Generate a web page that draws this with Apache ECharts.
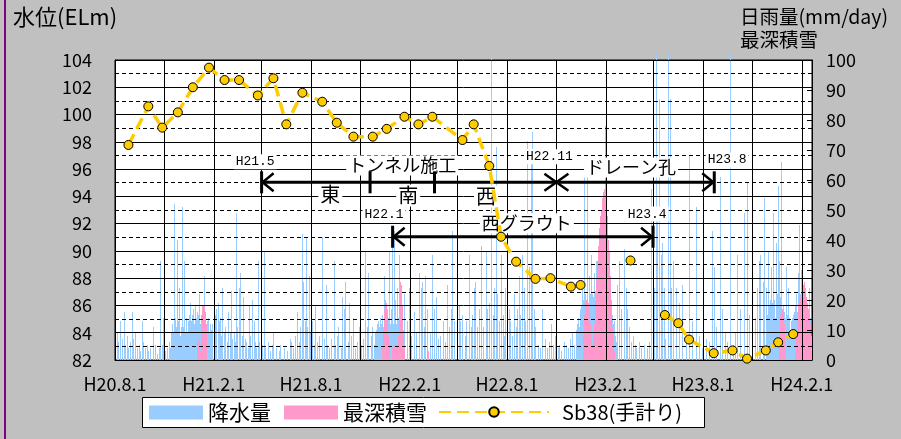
<!DOCTYPE html>
<html>
<head>
<meta charset="utf-8">
<script src="https://cdn.jsdelivr.net/npm/echarts@6/dist/echarts.min.js"></script>
<style>
  html, body { margin: 0; padding: 0; background: #c0c0c0; }
  body { position: relative; width: 901px; height: 439px; overflow: hidden; }
  #chart { width: 901px; height: 439px; }
  #edge { position: absolute; left: 4px; top: 0; width: 2px; height: 439px; background: #800080; }
</style>
</head>
<body>
<div id="chart"></div>
<div id="edge"></div>
<script>
// ---- time helpers: rain / snow rows are keyed by days after 2008-08-01 ----
const DAY_MS = 864e5;
const T0 = Date.UTC(2008, 7, 1);
const dayToTime = d => T0 + d * DAY_MS;
const dateToTime = s => { const p = s.split('-').map(Number); return Date.UTC(p[0], p[1] - 1, p[2]); };

// ---- axes ----
const axisStart = '2008-08-01';
const axisEnd = '2012-02-20';
const gridDates = ['2008-08-01', '2008-11-01', '2009-02-01', '2009-05-01', '2009-08-01', '2009-11-01',
  '2010-02-01', '2010-05-01', '2010-08-01', '2010-11-01', '2011-02-01', '2011-05-01', '2011-08-01',
  '2011-11-01', '2012-02-01'];
const labelDates = ['2008-08-01', '2009-02-01', '2009-08-01', '2010-02-01', '2010-08-01', '2011-02-01',
  '2011-08-01', '2012-02-01'];

// ---- daily precipitation [day, mm/day] ----
const RAIN = [
  // 2008 summer - 2009 spring
  [1,16],[4,9],[7,6],[11,13],[14,7],[17,16],[20,5],[23,8],[26,4],[29,6],[32,16],[35,7],[38,9],[42,4],[45,5],
  [48,3],[51,13],[54,6],[57,4],[60,5],[63,3],[66,4],[71,11],[76,5],[79,2],[82,4],[85,33],[88,5],[91,14],[94,3],
  [97,4],[101,6],[104,4],[107,7],[109,9],[110,52],[112,8],[114,11],[116,40],[118,13],[120,24],[122,8],[125,51],
  [127,11],[130,33],[132,9],[135,9],[137,13],[140,19],[142,13],[145,15],[147,14],[150,18],[152,13],[155,15],
  [157,22],[158,11],[161,13],[163,9],[166,28],[168,7],[171,7],[173,13],[175,14],[178,11],[181,12],[185,24],
  [187,15],[189,17],[192,19],[194,13],[197,14],[199,8],[201,24],[204,9],[206,11],[209,6],[212,16],[215,9],
  [217,23],[219,7],[222,9],[224,6],[226,49],[229,11],[231,24],[234,29],[237,8],[240,21],[243,7],[245,6],[248,4],
  [250,18],[253,8],[256,20],[259,13],[262,6],
  [106,9],[108,12],[111,10],[113,14],[115,9],[117,12],[119,10],[121,14],[123,11],[124,9],[126,13],[128,10],
  [129,12],[131,8],[133,14],[134,10],[136,12],[138,15],[139,11],[141,16],[143,12],[144,10],[146,17],[148,12],
  [149,10],[151,14],[153,11],[154,16],[156,12],[159,9],[160,12],[162,8],[164,14],[165,10],[167,8],[169,12],
  [170,9],[172,10],[174,8],[176,9],[177,12],[179,8],[180,10],
  // 2009 summer - 2010 spring
  [264,4],[267,33],[270,6],[275,5],[278,36],[281,4],[285,6],[289,3],[293,5],[296,9],[301,4],[306,3],[309,5],
  [315,4],[321,3],[326,7],[329,6],[332,4],[337,8],[340,16],[343,6],[346,11],[349,42],[351,26],[354,13],[357,41],
  [359,11],[362,28],[365,9],[368,13],[371,5],[374,18],[377,6],[381,8],[386,41],[390,7],[393,25],[396,5],[400,4],
  [403,7],[408,33],[411,5],[414,8],[417,11],[421,4],[424,21],[427,17],[429,26],[434,6],[437,19],[440,8],[444,14],
  [448,4],[452,6],[455,11],[459,5],[463,7],[467,36],[470,11],[473,29],[477,8],[480,11],[483,5],[486,9],[489,11],
  [492,11],[495,14],[498,6],[501,28],[504,8],[508,17],[511,36],[514,17],[517,44],[520,43],
  [487,10],[488,12],[490,9],[491,13],[493,11],[494,14],[496,10],[497,12],[499,15],[500,11],[502,13],[503,9],
  [505,12],[506,15],[507,11],[509,14],[510,10],[512,16],[513,12],[515,10],[516,14],[518,12],[519,9],[521,13],
  [522,10],[524,12],[525,9],[527,11],[528,14],[530,10],[531,8],[532,12],[534,9],[535,11],[536,8],[537,10],
  [538,7],
  [523,20],[526,24],[529,35],[533,12],[539,22],[544,13],[548,24],[552,8],[557,16],[562,9],[567,29],[570,24],
  [573,26],[576,11],[579,28],[582,17],[587,9],[591,35],[595,17],[598,21],[602,7],[607,8],[612,13],[616,6],
  // 2010 summer - 2011 spring
  [619,25],[623,11],[626,17],[629,43],[633,13],[637,8],[641,18],[644,13],[647,15],[652,8],[655,13],[660,35],
  [663,11],[666,15],[669,24],[672,26],[675,11],[679,17],[683,38],[687,11],[691,36],[694,17],[698,19],[701,102],
  [704,15],[706,24],[710,71],[713,22],[716,13],[719,35],[723,15],[725,8],[728,24],[731,14],[734,17],[737,13],
  [741,8],[744,22],[747,11],[750,17],[753,28],[756,15],[759,35],[762,24],[765,13],[769,73],[772,31],[775,68],
  [778,76],
  [781,17],[784,11],[789,5],[792,4],[797,17],[801,7],[805,4],[809,6],[812,12],[816,5],[820,8],[825,4],[828,5],
  [832,3],[837,6],[841,5],[844,4],[848,7],[852,9],[856,5],[859,8],[863,13],[867,17],[871,24],[874,66],[877,15],
  [879,65],[884,28],[887,35],[890,22],[893,29],[896,33],[899,31],[902,24],[905,37],[908,29],[912,24],[915,17],
  [919,25],[923,19],[927,15],[930,13],[935,25],[939,33],[944,17],[948,37],[952,24],[955,17],[958,11],[961,6],
  [860,10],[861,12],[862,9],[864,14],[865,11],[866,16],[868,13],[869,18],[870,15],[872,20],[873,14],[875,18],
  [876,22],[878,17],[880,21],[881,16],[882,19],[883,24],[885,18],[886,22],[888,17],[889,20],[891,16],[892,21],
  [894,18],[895,23],[897,20],[898,17],[900,22],[901,19],[903,16],[904,21],[906,18],[907,14],[909,19],[910,16],
  [911,13],[913,17],[914,14],[916,19],[917,15],[918,12],[920,16],[921,13],[922,10],[924,14],[925,11],[926,9],
  [928,12],[929,8],[931,10],[932,8],[933,6],
  [965,8],[969,5],[972,4],[977,6],[981,4],[986,5],[991,4],[995,6],[999,57],[1002,5],[1005,24],[1009,102],
  [1011,46],[1014,87],[1017,35],[1020,39],[1023,24],[1026,7],[1031,102],[1034,87],[1037,24],[1040,33],
  // 2011 summer - 2012 winter
  [1045,24],[1051,19],[1057,25],[1064,6],[1070,68],[1076,13],[1082,51],[1089,8],[1095,4],[1101,7],[1107,6],
  [1113,43],[1117,31],[1121,11],[1128,61],[1132,17],[1136,9],[1141,6],[1146,102],[1151,5],[1155,9],[1160,35],
  [1164,17],[1172,49],[1177,59],[1182,15],[1188,8],[1192,14],[1196,24],[1200,33],[1203,35],[1207,26],[1210,54],
  [1213,24],[1217,36],[1222,31],[1227,49],[1231,39],[1235,58],[1238,33],[1241,66],[1244,16],[1250,31],[1254,24],
  [1259,11],[1264,15],[1269,22],[1272,29],[1275,45],[1278,30],[1282,24],[1286,17],[1289,11],[1294,24],[1297,6],
  [1215,12],[1216,15],[1218,18],[1219,13],[1220,16],[1221,20],[1223,17],[1224,14],[1225,19],[1226,22],[1228,16],
  [1229,20],[1230,14],[1232,18],[1233,22],[1234,16],[1236,19],[1237,14],[1239,21],[1240,17],[1242,20],[1243,15],
  [1245,18],[1246,13],[1247,16],[1248,11],[1249,14],[1251,17],[1252,12],[1253,15],[1255,10],[1256,14],[1257,12],
  [1258,9],[1260,13],[1261,10],[1262,14],[1263,11],[1265,16],[1266,12],[1267,18],[1268,14],[1270,20],[1271,16],
  [1273,19],[1274,15],[1276,22],[1277,18],[1279,16],[1280,21],[1281,17],[1283,19],[1284,14],[1285,20],[1287,16],
  [1288,13],[1290,15],[1291,12],[1292,17],[1293,13],[1295,11],[1296,14],[1298,9],[1299,7]
];

// ---- maximum snow depth [day, cm] ----
const SNOW = [
  [154,6],[155,7],[156,7],[157,6],[160,3],[162,15],[163,18],[164,18],[165,17],[166,18],[167,17],[168,16],
  [169,14],[170,12],[171,8],
  [498,4],[500,10],[502,17],[503,20],[504,20],[505,19],[506,18],[507,15],[509,8],[512,5],[516,4],[518,5],
  [520,5],[522,4],[524,5],[526,4],[528,8],[530,18],[531,24],[532,26],[533,25],[534,23],[535,18],[537,8],
  [540,4],[582,4],[584,3],
  [872,5],[873,8],[874,12],[875,15],[876,18],[877,19],[878,20],[879,20],[880,19],[881,19],[882,18],[883,17],
  [884,15],[885,12],[886,9],[887,7],[888,6],[889,5],[890,5],[891,6],[892,8],[893,12],[894,16],[895,20],
  [896,24],[897,27],[898,30],[899,33],[900,36],[901,38],[902,41],[903,44],[904,46],[905,48],[906,50],[907,52],
  [908,54],[909,55],[910,56],[911,57],[912,57],[913,60],[914,78],[915,56],[916,52],[917,48],[918,44],[919,40],
  [920,36],[921,32],[922,28],[923,24],[924,20],[925,15],[926,11],[927,8],[928,6],[929,4],[930,3],
  [1237,4],[1238,8],[1239,12],[1240,15],[1241,16],[1242,17],[1243,17],[1244,16],[1245,15],[1246,12],[1247,8],
  [1248,4],[1268,3],[1270,8],[1271,12],[1272,16],[1273,19],[1274,21],[1275,22],[1276,21],[1277,20],[1278,19],
  [1279,20],[1280,21],[1281,22],[1282,23],[1283,25],[1284,26],[1285,24],[1286,22],[1287,21],[1288,20],
  [1289,19],[1290,18],[1291,17],[1292,16],[1293,15],[1294,14],[1295,12],[1296,10],[1297,8],[1298,6]
];

// ---- manual water level readings at Sb38 [date, EL m]; null marks a break in the line ----
const LEVEL = [
  ['2008-08-26',97.77],['2008-10-02',100.6],['2008-10-28',99.04],['2008-11-26',100.16],['2008-12-24',102.0],
  ['2009-01-23',103.44],['2009-02-21',102.53],['2009-03-20',102.53],['2009-04-24',101.4],['2009-05-23',102.66],
  ['2009-06-16',99.28],['2009-07-16',101.6],['2009-08-22',100.94],['2009-09-18',99.4],['2009-10-19',98.38],
  ['2009-11-24',98.38],['2009-12-20',98.95],['2010-01-22',99.84],['2010-02-17',99.28],['2010-03-15',99.84],
  ['2010-05-10',98.13],['2010-05-31',99.28],['2010-06-29',96.23],['2010-07-21',91.04],['2010-08-18',89.21],
  ['2010-09-23',87.95],['2010-10-21',88.0],['2010-11-28',87.38],['2010-12-16',87.5],
  null,
  ['2011-03-19',89.3],
  null,
  ['2011-05-22',85.3],['2011-06-16',84.7],['2011-07-06',83.5],['2011-08-21',82.5],['2011-09-25',82.7],
  ['2011-10-22',82.1],['2011-11-26',82.7],['2011-12-19',83.3],['2012-01-16',83.9]
];

// ---- works schedule drawn on the water level scale ----
// spans with end bars and arrow heads [start, end, level]
const SPANS = [
  ['2009-05-01', '2011-08-22', 95.03],
  ['2009-12-31', '2011-04-30', 91.04]
];
// short dividers on the tunnel span [date, level, kind]
const MARKS = [
  ['2009-11-19', 95.03, 'tick'],
  ['2010-03-19', 95.03, 'tick'],
  ['2010-11-01', 95.03, 'cross']
];
// captions [text, date, level, style]
const NOTES = [
  ['H21.5', '2009-04-19', 96.54, 'date'],
  ['H22.1', '2009-12-15', 92.63, 'date'],
  ['H22.11', '2010-10-19', 96.91, 'date'],
  ['H23.4', '2011-04-19', 92.7, 'date'],
  ['H23.8', '2011-09-15', 96.67, 'date'],
  ['トンネル施工', '2010-01-18', 96.26, 'work'],
  ['ドレーン孔', '2011-03-20', 96.12, 'work'],
  ['西グラウト', '2010-09-07', 92.02, 'work'],
  ['東', '2009-09-06', 94.17, 'part'],
  ['南', '2010-01-29', 94.06, 'part'],
  ['西', '2010-06-23', 93.98, 'part']
];

const JP = '"Noto Sans CJK JP", "Noto Sans", sans-serif';
const MONO = '"Liberation Mono", "DejaVu Sans Mono", monospace';

function heisei(v) {
  const d = new Date(v);
  return 'H' + (d.getUTCFullYear() - 1988) + '.' + (d.getUTCMonth() + 1) + '.' + d.getUTCDate();
}

// one-pixel daily column, snapped to the pixel grid so it stays crisp
function renderDailyBar(params, api) {
  const top = api.coord([api.value(0), api.value(1)]);
  const base = api.coord([api.value(0), 0]);
  return {
    type: 'rect',
    shape: { x: Math.floor(top[0]), y: top[1], width: 1, height: base[1] - top[1] },
    style: { fill: api.visual('color') }
  };
}

const INK = { stroke: '#000', lineWidth: 3, fill: null };
const HEAD = { stroke: '#000', lineWidth: 2.5, fill: null };

function renderSpan(params, api) {
  const a = api.coord([api.value(0), api.value(2)]);
  const b = api.coord([api.value(1), api.value(2)]);
  const H = 11, AW = 12, AH = 9;
  return {
    type: 'group',
    children: [
      { type: 'line', shape: { x1: a[0], y1: a[1], x2: b[0], y2: b[1] }, style: INK },
      { type: 'line', shape: { x1: a[0], y1: a[1] - H, x2: a[0], y2: a[1] + H }, style: INK },
      { type: 'line', shape: { x1: b[0], y1: b[1] - H, x2: b[0], y2: b[1] + H }, style: INK },
      { type: 'polyline', shape: { points: [[a[0] + AW, a[1] - AH], [a[0] + 1, a[1]], [a[0] + AW, a[1] + AH]] }, style: HEAD },
      { type: 'polyline', shape: { points: [[b[0] - AW, b[1] - AH], [b[0] - 1, b[1]], [b[0] - AW, b[1] + AH]] }, style: HEAD }
    ]
  };
}

function renderMark(params, api) {
  const p = api.coord([api.value(0), api.value(1)]);
  const kind = MARKS[params.dataIndex][2];
  if (kind === 'tick') {
    return { type: 'line', shape: { x1: p[0], y1: p[1] - 11, x2: p[0], y2: p[1] + 11 }, style: INK };
  }
  const AW = 12, AH = 8.5;
  return {
    type: 'group',
    children: [
      { type: 'polyline', shape: { points: [[p[0] - AW, p[1] - AH], [p[0], p[1]], [p[0] - AW, p[1] + AH]] }, style: HEAD },
      { type: 'polyline', shape: { points: [[p[0] + AW, p[1] - AH], [p[0], p[1]], [p[0] + AW, p[1] + AH]] }, style: HEAD }
    ]
  };
}

const NOTE_STYLE = {
  date: { fontSize: 13, fontFamily: MONO },
  work: { fontSize: 18, fontFamily: JP },
  part: { fontSize: 20, fontFamily: JP }
};

function renderNote(params, api) {
  const p = api.coord([api.value(0), api.value(1)]);
  const n = NOTES[params.dataIndex];
  const st = NOTE_STYLE[n[3]];
  return {
    type: 'text',
    x: p[0], y: p[1],
    style: {
      text: n[0], fontSize: st.fontSize, fontFamily: st.fontFamily, fill: '#000',
      align: 'center', verticalAlign: 'middle', backgroundColor: '#fff', padding: [1, 2]
    }
  };
}

const chart = echarts.init(document.getElementById('chart'), null, { renderer: 'canvas' });

chart.setOption({
  animation: false,
  backgroundColor: '#c0c0c0',
  title: [
    { text: '水位(ELm)', left: 13, top: 6, padding: 0,
      textStyle: { fontSize: 22, fontWeight: 'normal', color: '#000', fontFamily: JP } },
    { text: '日雨量(mm/day)\n最深積雪', left: 740, top: 5, padding: 0,
      textStyle: { fontSize: 19.5, lineHeight: 23, fontWeight: 'normal', color: '#000', fontFamily: JP } }
  ],
  graphic: [
    { type: 'rect', left: 142, top: 397, z: 0,
      shape: { width: 562, height: 30 }, style: { fill: '#fff', stroke: '#000', lineWidth: 1 } }
  ],
  legend: [
    { data: ['降水量', '最深積雪'], left: 149, top: 402, padding: 0, itemGap: 13,
      itemWidth: 54, itemHeight: 14, icon: 'rect', z: 5,
      textStyle: { fontSize: 21, color: '#000', fontFamily: JP } },
    { data: ['Sb38(手計り)'], left: 438, top: 402, padding: 0,
      itemWidth: 110, itemHeight: 12, z: 5,
      textStyle: { fontSize: 20, color: '#000', fontFamily: JP, padding: [0, 0, 0, 8] } }
  ],
  grid: { left: 115, right: 89, top: 60, bottom: 79, show: true, backgroundColor: '#fff',
    borderColor: '#000', borderWidth: 1 },
  xAxis: {
    type: 'value', z: 5,
    min: dateToTime(axisStart), max: dateToTime(axisEnd),
    axisLine: { show: true, lineStyle: { color: '#000', width: 1 } },
    axisTick: { show: true, inside: true, length: 1, lineStyle: { color: '#000' },
      customValues: gridDates.map(dateToTime) },
    axisLabel: { customValues: labelDates.map(dateToTime), formatter: heisei,
      fontSize: 18, color: '#000', fontFamily: JP, margin: 15 },
    splitLine: { show: true, lineStyle: { color: '#000', width: 1 } }
  },
  yAxis: [
    { type: 'value', min: 82, max: 104, interval: 2, position: 'left', z: 5,
      axisLine: { show: true, lineStyle: { color: '#000' } },
      axisTick: { show: false },
      axisLabel: { fontSize: 18, color: '#000', fontFamily: JP, margin: 23 },
      splitLine: { show: true, lineStyle: { color: '#000', width: 1 } },
      minorTick: { show: false, splitNumber: 2 },
      minorSplitLine: { show: true, lineStyle: { color: '#000', width: 1, type: [4, 3] } } },
    { type: 'value', min: 0, max: 100, interval: 10, position: 'right', z: 5,
      axisLine: { show: true, lineStyle: { color: '#000' } },
      axisTick: { show: true, inside: true, length: 5, lineStyle: { color: '#000' } },
      axisLabel: { fontSize: 18, color: '#000', fontFamily: JP, margin: 14 },
      splitLine: { show: false } }
  ],
  series: [
    { name: '降水量', type: 'custom', yAxisIndex: 1, z: 2, silent: true,
      encode: { x: 0, y: 1 }, renderItem: renderDailyBar,
      itemStyle: { color: '#99ccff' },
      data: RAIN.map(r => [dayToTime(r[0]), r[1]]) },
    { name: '最深積雪', type: 'custom', yAxisIndex: 1, z: 3, silent: true,
      encode: { x: 0, y: 1 }, renderItem: renderDailyBar,
      itemStyle: { color: '#ff99cc' },
      data: SNOW.map(r => [dayToTime(r[0]), r[1]]) },
    { type: 'custom', name: 'spans', yAxisIndex: 0, z: 7, silent: true,
      encode: { x: [0, 1], y: 2 },
      renderItem: renderSpan,
      data: SPANS.map(s => [dateToTime(s[0]), dateToTime(s[1]), s[2]]) },
    { type: 'custom', name: 'marks', yAxisIndex: 0, z: 7, silent: true,
      encode: { x: 0, y: 1 },
      renderItem: renderMark,
      data: MARKS.map(m => [dateToTime(m[0]), m[1]]) },
    { type: 'custom', name: 'notes', yAxisIndex: 0, z: 6, silent: true,
      encode: { x: 0, y: 1 },
      renderItem: renderNote,
      data: NOTES.map(n => [dateToTime(n[1]), n[2]]) },
    { name: 'Sb38(手計り)', type: 'line', yAxisIndex: 0, z: 10,
      symbol: 'circle', symbolSize: 9, connectNulls: false,
      itemStyle: { color: '#ffcc00', borderColor: '#000', borderWidth: 1 },
      lineStyle: { color: '#ffcc00', width: 3.5, type: [12, 6] },
      data: LEVEL.map(r => r ? [dateToTime(r[0]), r[1]] : ['-', '-']) }
  ]
});
</script>
</body>
</html>
